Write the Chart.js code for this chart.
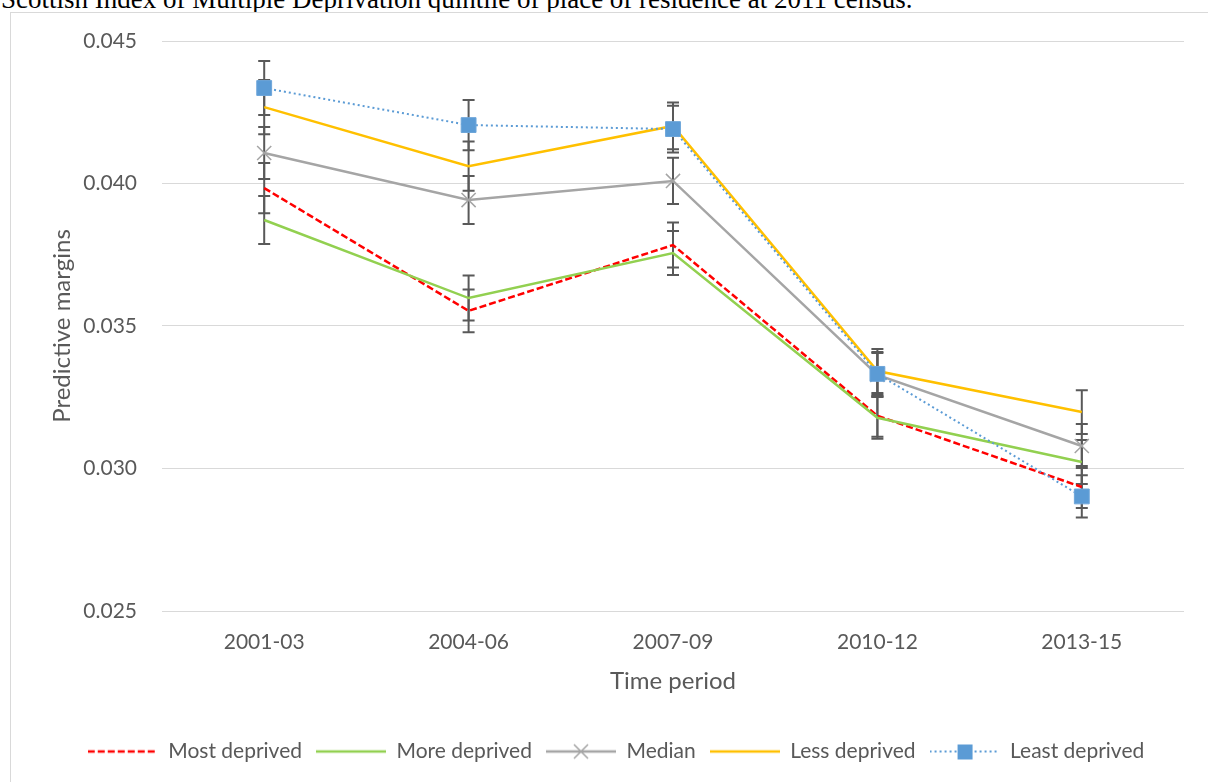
<!DOCTYPE html>
<html>
<head>
<meta charset="utf-8">
<script src="https://cdn.jsdelivr.net/npm/chart.js@4.4.1/dist/chart.umd.min.js"></script>
<style>
    html, body { margin: 0; padding: 0; background: #fff; overflow: hidden; }
    #caption { position: absolute; left: 1px; top: -14px; font: 27px "Liberation Serif", serif; line-height: 27px; color: #000; white-space: nowrap; }
    #frame { position: absolute; left: 10px; top: 12px; width: 1300px; height: 900px; border: 1px solid #d9d9d9; background: #fff; }
    #wrap { position: absolute; left: 0; top: 0; width: 1208px; height: 782px; }
</style>
</head>
<body>
<div id="caption">Scottish Index of Multiple Deprivation quintile of place of residence at 2011 census.</div>
<div id="frame"></div>
<div id="wrap"><canvas id="chart"></canvas></div>
<script>
// Data
const periods = ['2001-03', '2004-06', '2007-09', '2010-12', '2013-15'];
const seriesNames = ['Most deprived', 'More deprived', 'Median', 'Less deprived', 'Least deprived'];

const mostDeprived  = [0.03984, 0.03553, 0.03784, 0.03185, 0.02935];
const moreDeprived  = [0.03872, 0.03598, 0.03756, 0.03178, 0.03023];
const median        = [0.04107, 0.03942, 0.04009, 0.03328, 0.03079];
const lessDeprived  = [0.04268, 0.04061, 0.04202, 0.03342, 0.03198];
const leastDeprived = [0.04335, 0.04205, 0.04191, 0.03332, 0.02902];

// half-width of the 95% CI bars
const mostErr  = [0.00088, 0.00075, 0.00079, 0.00074, 0.00074];
const moreErr  = [0.00084, 0.00079, 0.00077, 0.00074, 0.00077];
const medErr   = [0.00091, 0.00084, 0.00081, 0.00077, 0.00077];
const lessErr  = [0.00095, 0.00086, 0.00082, 0.00077, 0.00077];
const leastErr = [0.00095, 0.00088, 0.00082, 0.00077, 0.00074];

const yTicks = [0.025, 0.030, 0.035, 0.040, 0.045];

const GREY_TEXT = '#595959';
const FONT = 'Lato';

// Legend symbol: line sample with optional marker
function makeSymbol(color, dash, width, marker) {
    const c = document.createElement('canvas');
    c.width = 70;
    c.height = 20;
    const g = c.getContext('2d');
    g.strokeStyle = color;
    g.lineWidth = width;
    g.setLineDash(dash);
    g.beginPath();
    g.moveTo(0, 10);
    g.lineTo(70, 10);
    g.stroke();
    g.setLineDash([]);
    if (marker === 'cross') {
        g.lineWidth = 1.5;
        g.beginPath();
        g.moveTo(28, 3); g.lineTo(42, 17);
        g.moveTo(42, 3); g.lineTo(28, 17);
        g.stroke();
    } else if (marker === 'square') {
        g.fillStyle = '#5b9bd5';
        g.fillRect(28, 3, 15, 15);
    }
    return c;
}

const symbols = [
    makeSymbol('#ff0000', [7, 3], 2.5),
    makeSymbol('#92d050', [], 2.5),
    makeSymbol('#a5a5a5', [], 2.5, 'cross'),
    makeSymbol('#ffc000', [], 2.5),
    makeSymbol('#5b9bd5', [2, 3], 2, 'square')
];

// Error bars drawn from each dataset's errors array
const errorBars = {
    id: 'errorBars',
    beforeDatasetsDraw(chart) {
        const ctx = chart.ctx;
        const yScale = chart.scales.y;
        ctx.save();
        ctx.strokeStyle = GREY_TEXT;
        ctx.lineWidth = 2;
        chart.data.datasets.forEach((ds, i) => {
            const meta = chart.getDatasetMeta(i);
            meta.data.forEach((pt, j) => {
                const hi = yScale.getPixelForValue(ds.data[j] + ds.errors[j]);
                const lo = yScale.getPixelForValue(ds.data[j] - ds.errors[j]);
                ctx.beginPath();
                ctx.moveTo(pt.x, hi); ctx.lineTo(pt.x, lo);
                ctx.moveTo(pt.x - 6, hi); ctx.lineTo(pt.x + 6, hi);
                ctx.moveTo(pt.x - 6, lo); ctx.lineTo(pt.x + 6, lo);
                ctx.stroke();
            });
        });
        ctx.restore();
    }
};

const ctx = document.getElementById('chart');

new Chart(ctx, {
    type: 'line',
    data: {
        labels: periods,
        datasets: [{
            label: seriesNames[0],
            data: mostDeprived,
            errors: mostErr,
            borderColor: '#ff0000',
            borderWidth: 2.5,
            borderDash: [7, 3],
            pointRadius: 0,
            order: 5
        }, {
            label: seriesNames[1],
            data: moreDeprived,
            errors: moreErr,
            borderColor: '#92d050',
            borderWidth: 2.5,
            pointRadius: 0,
            order: 4
        }, {
            label: seriesNames[2],
            data: median,
            errors: medErr,
            borderColor: '#a5a5a5',
            borderWidth: 2.5,
            pointStyle: 'crossRot',
            pointRadius: 10,
            pointBorderWidth: 1.5,
            pointBorderColor: '#a5a5a5',
            pointBackgroundColor: '#a5a5a5',
            order: 3
        }, {
            label: seriesNames[3],
            data: lessDeprived,
            errors: lessErr,
            borderColor: '#ffc000',
            borderWidth: 2.5,
            pointRadius: 0,
            order: 2
        }, {
            label: seriesNames[4],
            data: leastDeprived,
            errors: leastErr,
            borderColor: '#5b9bd5',
            borderWidth: 2,
            borderDash: [2, 3],
            pointStyle: 'rect',
            pointRadius: 10.5,
            pointBorderWidth: 1,
            pointBorderColor: '#6ea6da',
            pointBackgroundColor: '#5b9bd5',
            order: 1
        }]
    },
    options: {
        responsive: true,
        maintainAspectRatio: false,
        animation: false,
        layout: { padding: { left: 24, right: 0, top: 41, bottom: 10 } },
        elements: { line: { tension: 0, fill: false } },
        plugins: {
            tooltip: { enabled: false },
            legend: {
                position: 'bottom',
                labels: {
                    usePointStyle: true,
                    pointStyleWidth: 70,
                    padding: 14,
                    color: GREY_TEXT,
                    font: { family: FONT, size: 21 },
                    generateLabels: chart => Chart.defaults.plugins.legend.labels.generateLabels(chart)
                        .map(it => ({ ...it, pointStyle: symbols[it.datasetIndex] }))
                        .sort((a, b) => a.datasetIndex - b.datasetIndex)
                }
            }
        },
        scales: {
            x: {
                offset: true,
                grid: { display: false, drawTicks: false, offset: true },
                border: { display: false },
                ticks: { color: GREY_TEXT, font: { family: FONT, size: 21 }, padding: 19 },
                title: {
                    display: true,
                    text: 'Time period',
                    color: GREY_TEXT,
                    font: { family: FONT, size: 24 },
                    padding: { top: 0, bottom: 31 }
                },
                afterFit: s => { s.height = 116; }
            },
            y: {
                min: 0.025,
                max: 0.045,
                grid: { color: '#d9d9d9', lineWidth: 1, drawTicks: false },
                border: { display: false },
                afterBuildTicks: s => { s.ticks = yTicks.map(v => ({ value: v })); },
                ticks: {
                    color: GREY_TEXT,
                    font: { family: FONT, size: 21 },
                    padding: 25,
                    callback: v => Number(v).toFixed(3)
                },
                title: {
                    display: true,
                    text: 'Predictive margins',
                    color: GREY_TEXT,
                    font: { family: FONT, size: 24 },
                    padding: { top: 24, bottom: 0 }
                },
                afterFit: s => { s.width = 138; }
            },
            // empty right-hand box so the plot stops short of the edge
            spacer: {
                type: 'linear',
                position: 'right',
                grid: { display: false, drawTicks: false },
                border: { display: false },
                ticks: { display: false },
                afterFit: s => { s.width = 24; }
            }
        }
    },
    plugins: [errorBars]
});
</script>
</body>
</html>
